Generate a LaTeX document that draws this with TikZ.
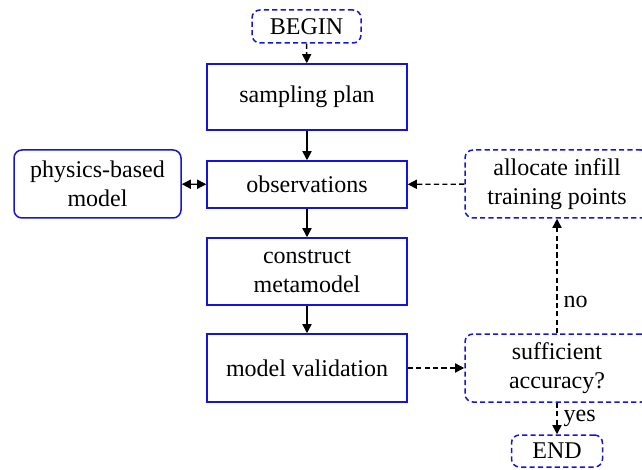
\documentclass[tikz,border=0pt]{standalone}
\usepackage{fontspec}
\setmainfont{Liberation Serif}
\usetikzlibrary{arrows.meta}
\begin{document}
\begin{tikzpicture}[x=0.5pt,y=-0.5pt,
  font=\fontsize{12}{14.5}\selectfont,
  tip/.tip={Triangle[length=4.6pt,width=4.6pt]},
  procbox/.style={draw={rgb,255:red,20;green,20;blue,220},line width=0.75pt,
    inner sep=0pt,align=center,minimum width=100pt},
  softbox/.style={procbox,rounded corners=4pt},
  termbox/.style={softbox,dash pattern=on 2.6pt off 1.6pt},
  flow/.style={draw=black,line width=0.7pt,-tip},
  dflow/.style={flow,dash pattern=on 2.6pt off 1.6pt},
  lbl/.style={inner sep=0pt,anchor=west}]
\useasboundingbox (0,0) rectangle (642,470);

% main column
\node[termbox,minimum width=54.5pt,minimum height=16.5pt] (begin) at (306.5,26.5) {BEGIN};
\node[procbox,minimum height=33pt] (plan) at (307,97) {sampling plan};
\node[procbox,minimum height=23.5pt] (obs) at (307,184.5) {observations};
\node[procbox,minimum height=33.5pt] (meta) at (307,271.5) {construct\\metamodel};
\node[procbox,minimum height=34pt] (valid) at (307,368) {model validation};

% side boxes
\node[softbox,minimum width=83.5pt,minimum height=34pt] (phys) at (97.5,184) {physics-based\\model};
\node[termbox,minimum width=92pt,minimum height=34pt] (infill) at (557,184) {allocate infill\\training points};
\node[termbox,minimum width=92pt,minimum height=34pt] (acc) at (557,368) {sufficient\\accuracy?};
\node[termbox,minimum width=45.5pt,minimum height=16pt] (end) at (557,451) {END};

% connectors
\draw[dflow] (begin) -- (plan);
\draw[flow] (plan) -- (obs);
\draw[flow] (obs) -- (meta);
\draw[flow] (meta) -- (valid);
\draw[flow,tip-tip] (phys) -- (obs);
\draw[dflow] (valid) -- (acc);
\draw[dflow] (infill) -- (obs);
\draw[dflow] (acc) -- node[lbl,right=3pt,pos=0.27] {no} (infill);
\draw[dflow] (acc) -- node[lbl,right=3pt] {yes} (end);
\end{tikzpicture}
\end{document}
